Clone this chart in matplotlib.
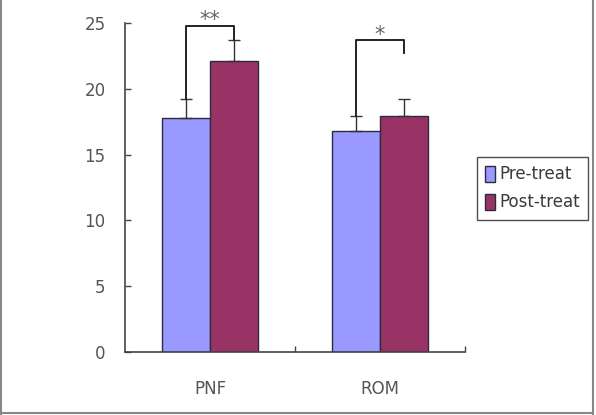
import numpy as np
import matplotlib
matplotlib.use("Agg")
import matplotlib.pyplot as plt
from matplotlib.lines import Line2D

# data
categories = ["PNF", "ROM"]
series = ["Pre-treat", "Post-treat"]
pre_mean = [17.8, 16.8]
post_mean = [22.1, 17.9]
pre_err = [1.4, 1.1]
post_err = [1.6, 1.3]
# significance brackets: (category, bracket height, left leg bottom, right leg bottom, label)
brackets = [
    (0, 24.8, 19.2, 23.7, "**"),
    (1, 23.7, 17.9, 22.7, "*"),
]
yticks = [0, 5, 10, 15, 20, 25]

pre_color = "#9999FF"
post_color = "#993366"
edge = "#2b2b40"
text_gray = "#555555"

fig = plt.figure(figsize=(5.96, 4.15), dpi=100)
ax = fig.add_axes([125 / 596, 1 - 352 / 415, 340 / 596, 329 / 415])

x = np.arange(len(categories))
w = 0.285
off = w / 2

ax.bar(x - off, pre_mean, w, color=pre_color, edgecolor=edge, linewidth=1,
       label=series[0], zorder=2)
ax.bar(x + off, post_mean, w, color=post_color, edgecolor=edge, linewidth=1,
       label=series[1], zorder=2)

# upper-only error bars
ax.errorbar(x - off, pre_mean, yerr=[np.zeros(2), pre_err], fmt="none",
            ecolor="#333333", elinewidth=1, capsize=4, capthick=1, zorder=3)
ax.errorbar(x + off, post_mean, yerr=[np.zeros(2), post_err], fmt="none",
            ecolor="#333333", elinewidth=1, capsize=4, capthick=1, zorder=3)

# significance brackets
for cat, top, lbot, rbot, lab in brackets:
    xl = cat - off
    xr = cat + off
    ax.plot([xl, xl, xr, xr], [lbot, top, top, rbot], color="#222222",
            linewidth=1.4, zorder=4, clip_on=False)
    ax.text(cat, top - 0.35, lab, ha="center", va="bottom", fontsize=15,
            color="#666666", clip_on=False)

ax.set_xlim(-0.5, 1.5)
ax.set_ylim(0, 25)
ax.set_yticks(yticks)
ax.set_yticklabels([str(t) for t in yticks], fontsize=12, color=text_gray)
ax.set_xticks(x)
ax.set_xticklabels(categories, fontsize=12, color=text_gray)
ax.tick_params(axis="y", direction="in", length=4, width=1, color="#444444", pad=14)
ax.tick_params(axis="x", length=0, pad=20)
# small category separator ticks on the x axis
ax.set_xticks([0.5, 1.5], minor=True)
ax.tick_params(axis="x", which="minor", direction="in", length=4, width=1,
               color="#444444")

for s in ["top", "right"]:
    ax.spines[s].set_visible(False)
for s in ["left", "bottom"]:
    ax.spines[s].set_color("#444444")
    ax.spines[s].set_linewidth(1.2)

leg = ax.legend(loc="upper left", bbox_to_anchor=(477 / 596, 1 - 157 / 415),
                bbox_transform=fig.transFigure, fontsize=12, frameon=True,
                fancybox=False, edgecolor="#222222", handlelength=0.6,
                handleheight=1.1, handletextpad=0.25, borderpad=0.5,
                labelspacing=0.6, borderaxespad=0)
leg.get_frame().set_linewidth(1)
for t in leg.get_texts():
    t.set_color("#3a3a3a")

# outer frame of the picture
fr = dict(color="#888888", linewidth=1.5, transform=fig.transFigure)
fig.add_artist(Line2D([0.002, 0.002], [0.0, 1.0], **fr))
fig.add_artist(Line2D([0.995, 0.995], [0.0, 1.0], **fr))
fig.add_artist(Line2D([0.0, 0.995], [0.005, 0.005], **fr))

fig.savefig("out.png", dpi=100)
